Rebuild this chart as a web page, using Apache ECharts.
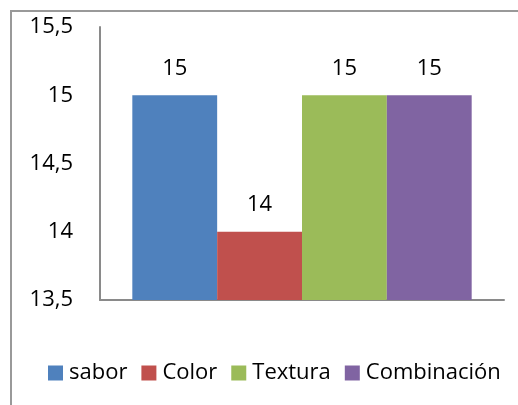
<!DOCTYPE html>
<html>
<head>
<meta charset="utf-8">
<script src="https://cdn.jsdelivr.net/npm/echarts@6/dist/echarts.min.js"></script>
<style>
  html, body { margin: 0; padding: 0; background: #fff; }
  #chart { width: 518px; height: 405px; }
</style>
</head>
<body>
<div id="chart"></div>
<script>
const categories = [''];
const seriesNames = ['sabor', 'Color', 'Textura', 'Combinación'];
const sabor = [15];
const color = [14];
const textura = [15];
const combinacion = [15];
const seriesValues = [sabor, color, textura, combinacion];
const seriesColors = ['#4F81BD', '#C0504D', '#9BBB59', '#8064A2'];
const yMin = 13.5, yMax = 15.5, yStep = 0.5;

const FONT = 'Open Sans';
const chart = echarts.init(document.getElementById('chart'), null, { renderer: 'canvas' });

const series = seriesNames.map((name, i) => ({
  name: name,
  type: 'bar',
  data: seriesValues[i],
  barGap: 0,
  barCategoryGap: '16%',
  itemStyle: { color: seriesColors[i] },
  label: {
    show: true,
    position: 'top',
    distance: 16,
    color: '#000',
    fontFamily: FONT,
    fontSize: 22,
    formatter: p => String(p.value).replace('.', ',')
  }
}));

chart.setOption({
  animation: false,
  textStyle: { fontFamily: FONT },
  graphic: [{
    type: 'rect',
    shape: { x: 11, y: 11, width: 700, height: 600 },
    style: { fill: 'none', stroke: '#999999', lineWidth: 2 },
    silent: true
  }],
  grid: { left: 100, top: 27, right: 14, bottom: 105, containLabel: false },
  xAxis: {
    type: 'category',
    data: categories,
    axisLine: { show: true, lineStyle: { color: '#8a8a8a', width: 2 } },
    axisTick: { show: false },
    axisLabel: { show: false }
  },
  yAxis: {
    type: 'value',
    min: yMin,
    max: yMax,
    interval: yStep,
    axisLine: { show: true, lineStyle: { color: '#8a8a8a', width: 2 } },
    axisTick: { show: false },
    splitLine: { show: false },
    axisLabel: {
      margin: 27,
      color: '#000',
      fontFamily: FONT,
      fontSize: 22,
      formatter: v => String(v).replace('.', ',')
    }
  },
  legend: {
    data: seriesNames,
    left: 43,
    top: 357,
    itemWidth: 15,
    itemHeight: 15,
    itemGap: 14,
    icon: 'rect',
    textStyle: { color: '#000', fontFamily: FONT, fontSize: 22, padding: [0, 0, 0, 1] }
  },
  series: series
});
</script>
</body>
</html>
